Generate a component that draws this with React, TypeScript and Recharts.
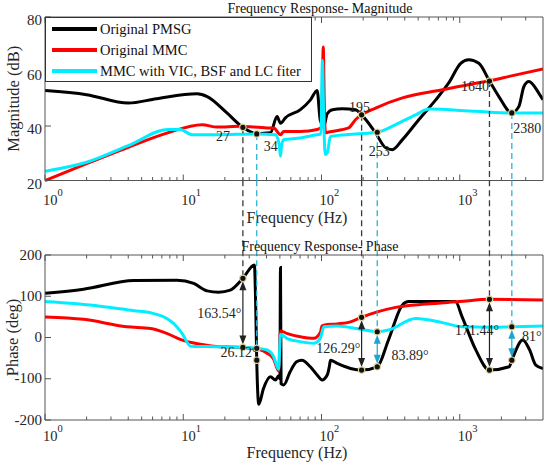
import React from 'react';
import { LineChart, Line, XAxis, YAxis, ReferenceLine, ReferenceDot, Legend } from 'recharts';

const FONT = '"Liberation Serif", "Times New Roman", serif';
const W = 550;
const H = 467;

const seriesNames = ['Original PMSG', 'Original MMC', 'MMC with VIC, BSF and LC fiter'];
const seriesColors = ['#000000', '#ff0000', '#00eeff'];

const decadeTicks = [1, 10, 100, 1000];
const minorTicks = [2, 3, 4, 5, 6, 7, 8, 9, 20, 30, 40, 50, 60, 70, 80, 90, 200, 300, 400, 500, 600, 700, 800, 900, 2000, 3000];
const freqTicks = [...decadeTicks, ...minorTicks].sort((a, b) => a - b);
const freqDomain = [1, 4000];
const magTicks = [20, 40, 60, 80];
const phaseTicks = [-200, -100, 0, 100, 200];

// magnitude (dB)
const pmsgMagFreq = [1, 2, 4, 6.4, 12.6, 14.9, 20.7, 27, 34, 42.7, 47.7, 50.5, 54.8, 70.4, 83.2, 93, 98, 104, 110, 120, 141, 176, 195, 246, 291, 325, 385, 505, 670, 832, 1016, 1161, 1374, 1640, 1918, 2380, 2678, 2911, 3162, 3736, 4000];
const pmsgMag = [53, 51.5, 48.4, 50, 51.8, 50.8, 44.8, 39.5, 37.2, 37.5, 43.5, 41, 43, 46, 49.6, 53, 42, 40, 44.5, 46, 46.3, 46, 44.1, 37.5, 32, 31.3, 35, 42.3, 49.6, 55.8, 63, 64.3, 63, 56.5, 50.8, 44.8, 47.2, 54.5, 56.3, 52, 49.6];

const mmcMagFreq = [1, 2, 4, 7.6, 13.7, 17.5, 25.9, 40.4, 45.1, 50.5, 53.3, 70.4, 93, 100, 103, 105, 107, 113, 157, 176, 195, 246, 385, 750, 1306, 1640, 2277, 4000];
const mmcMag = [20, 26.2, 32.2, 37.4, 40.5, 39.6, 39.9, 39.3, 39.3, 36.8, 38, 38, 38.7, 39.5, 69, 45, 37.5, 37.8, 39.3, 42.3, 44.1, 46.6, 50.3, 53.3, 55.7, 56.6, 58.2, 60.9];

const vicMagFreq = [1, 2, 4, 7.8, 9.5, 11.6, 17.5, 34, 46.4, 49.5, 50.5, 51.5, 53.3, 70.4, 93, 99, 101.5, 104, 106.5, 110, 116, 176, 253, 344, 480, 600, 1306, 2380, 4000];
const vicMag = [23.4, 26.7, 32.8, 38.7, 38.7, 36.8, 36.8, 37.1, 36.8, 33, 28.9, 33, 35, 35.6, 36.8, 37, 64, 40, 29.5, 30, 36.2, 37.1, 37.7, 40.5, 44.1, 46.2, 45.4, 44.8, 44.8];

// phase (deg)
const pmsgPhFreq = [1, 1.9, 4.4, 9, 11.9, 14.9, 18, 21.9, 27, 32.7, 33.5, 34, 35.2, 38, 42.7, 46.4, 49, 50, 50.5, 51, 53.3, 59.3, 66, 72, 83, 93, 101, 110, 114, 116, 130, 162, 195, 253, 305, 385, 427, 930, 1040, 1306, 1640, 2277, 2380, 2860, 3200, 3550, 4000];
const pmsgPh = [107, 117, 138, 139, 131, 113, 110, 115, 143.5, 176, 60, -55, -162, -124, -95, -103, -93, -100, 170, -112, -115, -83, -59, -55, -71, -91, -103, -91, -70, -55, -63, -75, -79, -71, -6, 79, 87, 87, 50, -30, -79, -71, -55, -6, -30, -67, -75];

const mmcPhFreq = [1, 1.9, 3.9, 5.8, 7.6, 9.5, 13.3, 17.5, 27, 36, 40.4, 45, 49, 50.5, 56, 70, 88, 98, 101, 104, 130, 162, 195, 253, 344, 570, 990, 1640, 4000];
const mmcPh = [50, 44, 26, 22, 10, -4.5, -16.5, -22, -24, -30, -38, -52, -81, 16, 10, 2, -2, 12, 28, 30, 33, 38, 49, 62, 73, 81, 87, 92.6, 91];

const vicPhFreq = [1, 2.5, 4.4, 5.8, 7.6, 8.5, 9.8, 11.3, 14.9, 27, 34, 40.4, 45, 49, 50.5, 56, 70, 88, 98, 104, 130, 192, 253, 305, 480, 750, 1040, 1640, 2380, 4000];
const vicPh = [87, 76, 65, 60, 46, 34, 10, -21, -22, -24, -26, -30, -46, -77, 8, -2, -10, -14, -2, 26, 28, 20, 14, 18, 46, 36, 26, 25, 26, 28];

// marked crossing points
const magMarkers = [
  { f: 27, v: 39.5, text: '27', kind: 'k' },
  { f: 34, v: 37.1, text: '34', kind: 'c' },
  { f: 195, v: 44.1, text: '195', kind: 'k' },
  { f: 253, v: 37.7, text: '253', kind: 'c' },
  { f: 1640, v: 56.5, text: '1640', kind: 'k' },
  { f: 2380, v: 44.8, text: '2380', kind: 'c' },
];
const phaseMarkers = [
  { f: 27, hi: 143.5, lo: -24, text: '163.54°', kind: 'k' },
  { f: 34, hi: -26, lo: -55, text: '26.12°', kind: 'c' },
  { f: 195, hi: 49, lo: -79, text: '126.29°', kind: 'k' },
  { f: 253, hi: 14, lo: -71, text: '83.89°', kind: 'c' },
  { f: 1640, hi: 92.6, lo: -79, text: '171.44°', kind: 'k' },
  { f: 2380, hi: 26, lo: -55, text: '81°', kind: 'c' },
];

// label placement (px from the dot)
const magLabelOffset: Record<string, number[]> = {
  '27': [-20, 13.5], '34': [14, 17.5], '195': [-2, -3], '253': [2, 24], '1640': [-14.5, 9.5], '2380': [15.5, 19.7],
};
const phaseLabelOffset: Record<string, number[]> = {
  '163.54°': [-23.7, -29.4], '26.12°': [-17.7, -3.2], '126.29°': [-23.3, -17], '83.89°': [32.7, -6.8], '171.44°': [-12.3, -35], '81°': [20, -19],
};
const dashColor: Record<string, string> = { k: '#3a3a3a', c: '#27b3da' };
const arrowColor: Record<string, string> = { k: '#222', c: '#1ca6cf' };

// connector reaches from the phase panel up to the bottom of the magnitude panel
const PHASE_EXT = 381;

const zip = (f: number[], v: number[]) => f.map((x, i) => ({ f: x, v: v[i] }));
const magSeries = [zip(pmsgMagFreq, pmsgMag), zip(mmcMagFreq, mmcMag), zip(vicMagFreq, vicMag)];
const phaseSeries = [zip(pmsgPhFreq, pmsgPh), zip(mmcPhFreq, mmcPh), zip(vicPhFreq, vicPh)];

const AXIS = '#555';
const TXT = '#262626';

const XTick = (props: any) => {
  const { x, y, payload, side, labelGap } = props;
  const v = payload.value;
  const major = decadeTicks.includes(v);
  const len = major ? 6 : 3.5;
  const dir = side === 'top' ? 1 : -1;
  return (
    <g>
      <line x1={x} x2={x} y1={y} y2={y + dir * len} stroke={AXIS} strokeWidth={1} />
      {major && side === 'bottom' && (
        <text x={x - 2} y={y + labelGap} fontFamily={FONT} fontSize={14.5} fill={TXT}>
          10
          <tspan dy={-9} fontSize={10.5}>{Math.round(Math.log10(v))}</tspan>
        </text>
      )}
    </g>
  );
};

const YTick = (props: any) => {
  const { x, y, payload, side, shift } = props;
  const dir = side === 'left' ? 1 : -1;
  return (
    <g>
      <line x1={x} x2={x + dir * 6} y1={y} y2={y} stroke={AXIS} strokeWidth={1} />
      {side === 'left' && (
        <text x={x - 3} y={y + shift} textAnchor="end" fontFamily={FONT} fontSize={15} fill={TXT}>
          {payload.value}
        </text>
      )}
    </g>
  );
};

const DoubleArrow = (p: any) => {
  const x = p.x1;
  const t = Math.min(p.y1, p.y2) + 3;
  const b = Math.max(p.y1, p.y2) - 3;
  const c = p.stroke;
  return (
    <g>
      <line x1={x} x2={x} y1={t + 5} y2={b - 5} stroke={c} strokeWidth={1.2} />
      <polygon points={`${x},${t} ${x - 3.5},${t + 9} ${x + 3.5},${t + 9}`} fill={c} />
      <polygon points={`${x},${b} ${x - 3.5},${b - 9} ${x + 3.5},${b - 9}`} fill={c} />
    </g>
  );
};

const dotLabel = (text: string, off: number[]) => (lp: any) => {
  const vb = lp.viewBox;
  const cx = vb.x + vb.width / 2;
  const cy = vb.y + vb.height / 2;
  return (
    <text x={cx + off[0]} y={cy + off[1]} textAnchor="middle" fontFamily={FONT} fontSize={14} fill={TXT}>
      {text}
    </text>
  );
};

const titleLabel = (text: string) => (lp: any) => {
  const vb = lp.viewBox;
  return (
    <text x={vb.x + vb.width / 2 + 26} y={vb.y + vb.height - 4.5} textAnchor="middle" fontFamily={FONT} fontSize={14} fill="#111">
      {text}
    </text>
  );
};

const xLabel = (gap: number) => (lp: any) => {
  const vb = lp.viewBox;
  return (
    <text x={vb.x + vb.width / 2 + 3} y={vb.y + gap} textAnchor="middle" fontFamily={FONT} fontSize={16} fill={TXT}>
      Frequency (Hz)
    </text>
  );
};

const yLabel = (text: string, bx: number) => (lp: any) => {
  const vb = lp.viewBox;
  const cy = vb.y + vb.height / 2;
  return (
    <text x={bx} y={cy} transform={`rotate(-90 ${bx} ${cy})`} textAnchor="middle" fontFamily={FONT} fontSize={16.5} fill={TXT}>
      {text}
    </text>
  );
};

const renderLegend = (props: any) => {
  const entries = [...(props.payload || [])].sort(
    (a: any, b: any) => seriesNames.indexOf(a.value) - seriesNames.indexOf(b.value)
  );
  return (
    <div
      style={{
        position: 'relative',
        width: 267,
        height: 65,
        boxSizing: 'border-box',
        border: '1px solid #333',
        background: '#fff',
        fontFamily: FONT,
        fontSize: 14.5,
        color: '#111',
      }}
    >
      {entries.map((e: any, i: number) => (
        <div key={i} style={{ position: 'absolute', left: 6, top: 2 + i * 21, height: 18, display: 'flex', alignItems: 'center', whiteSpace: 'nowrap' }}>
          <span style={{ display: 'inline-block', width: 45, height: 3.5, background: e.color, marginRight: 3 }} />
          <span>{e.value}</span>
        </div>
      ))}
    </div>
  );
};

const axesFor = (domain: number[], labelGap: number, title: string, xGap: number) => [
  <XAxis
    key="xb"
    dataKey="f"
    type="number"
    scale="log"
    domain={domain}
    allowDataOverflow
    ticks={freqTicks}
    interval={0}
    height={1}
    tickSize={0}
    tickMargin={0}
    tickLine={false}
    axisLine={{ stroke: AXIS }}
    tick={(p: any) => <XTick {...p} side="bottom" labelGap={labelGap} />}
    label={{ content: xLabel(xGap) }}
  />,
  <XAxis
    key="xt"
    xAxisId="top"
    orientation="top"
    dataKey="f"
    type="number"
    scale="log"
    domain={domain}
    allowDataOverflow
    ticks={freqTicks}
    interval={0}
    height={1}
    tickSize={0}
    tickMargin={0}
    tickLine={false}
    axisLine={{ stroke: AXIS }}
    tick={(p: any) => <XTick {...p} side="top" />}
    label={{ content: titleLabel(title) }}
  />,
];

function App() {
  const magDomain = [20, 80];
  const phaseDomain = [-200, 200];
  return (
    <div style={{ position: 'absolute', left: 0, top: 0, width: W, height: H, background: '#fff' }}>
      <div style={{ position: 'absolute', left: 0, top: 0 }}>
        <LineChart width={W} height={H} margin={{ top: 16, right: 6, bottom: H - 180.5 - 1, left: 44 }}>
          {axesFor(freqDomain, 24, 'Frequency Response- Magnitude', 42)}
          <YAxis
            type="number"
            domain={magDomain}
            ticks={magTicks}
            interval={0}
            width={1}
            tickSize={0}
            tickMargin={0}
            tickLine={false}
            axisLine={{ stroke: AXIS }}
            tick={(p: any) => <YTick {...p} side="left" shift={8} />}
            label={{ content: yLabel('Magnitude (dB)', 19) }}
          />
          <YAxis
            yAxisId="r"
            orientation="right"
            type="number"
            domain={magDomain}
            ticks={magTicks}
            interval={0}
            width={1}
            tickSize={0}
            tickMargin={0}
            tickLine={false}
            axisLine={{ stroke: AXIS }}
            tick={(p: any) => <YTick {...p} side="right" />}
          />
          <Legend
            layout="vertical"
            align="center"
            verticalAlign="middle"
            content={renderLegend}
            wrapperStyle={{ left: 45, top: 17, width: 267, height: 65 }}
          />
          {magSeries.map((d, i) => (
            <Line
              key={seriesNames[i]}
              name={seriesNames[i]}
              data={d}
              dataKey="v"
              type="monotone"
              stroke={seriesColors[i]}
              strokeWidth={3}
              dot={false}
              activeDot={false}
              isAnimationActive={false}
            />
          ))}
          {magMarkers.map((m) => (
            <ReferenceLine
              key={'c' + m.text}
              segment={[{ x: m.f, y: m.v }, { x: m.f, y: magDomain[0] }]}
              stroke={dashColor[m.kind]}
              strokeWidth={1.3}
              strokeDasharray="6 4"
              ifOverflow="visible"
            />
          ))}
          {magMarkers.map((m) => (
            <ReferenceDot
              key={'d' + m.text}
              x={m.f}
              y={m.v}
              r={3.2}
              fill="#111"
              stroke="#ddd29a"
              strokeWidth={1.2}
              ifOverflow="visible"
              label={dotLabel(m.text, magLabelOffset[m.text])}
            />
          ))}
        </LineChart>
      </div>
      <div style={{ position: 'absolute', left: 0, top: 0 }}>
        <LineChart width={W} height={H} margin={{ top: 254, right: 6, bottom: H - 420 - 1, left: 44 }}>
          {axesFor(freqDomain, 21, 'Frequency Response- Phase', 38)}
          <YAxis
            type="number"
            domain={phaseDomain}
            ticks={phaseTicks}
            interval={0}
            width={1}
            tickSize={0}
            tickMargin={0}
            tickLine={false}
            axisLine={{ stroke: AXIS }}
            tick={(p: any) => <YTick {...p} side="left" shift={4.5} />}
            label={{ content: yLabel('Phase (deg)', 18) }}
          />
          <YAxis
            yAxisId="r"
            orientation="right"
            type="number"
            domain={phaseDomain}
            ticks={phaseTicks}
            interval={0}
            width={1}
            tickSize={0}
            tickMargin={0}
            tickLine={false}
            axisLine={{ stroke: AXIS }}
            tick={(p: any) => <YTick {...p} side="right" />}
          />
          {phaseSeries.map((d, i) => (
            <Line
              key={seriesNames[i]}
              name={seriesNames[i]}
              data={d}
              dataKey="v"
              type="monotone"
              stroke={seriesColors[i]}
              strokeWidth={3}
              dot={false}
              activeDot={false}
              isAnimationActive={false}
            />
          ))}
          {phaseMarkers.map((m) => (
            <ReferenceLine
              key={'c' + m.text}
              segment={[{ x: m.f, y: PHASE_EXT }, { x: m.f, y: m.hi }]}
              stroke={dashColor[m.kind]}
              strokeWidth={1.3}
              strokeDasharray="6 4"
              ifOverflow="visible"
            />
          ))}
          {phaseMarkers
            .filter((m) => m.hi - m.lo > 40)
            .map((m) => (
              <ReferenceLine
                key={'a' + m.text}
                segment={[{ x: m.f, y: m.hi }, { x: m.f, y: m.lo }]}
                stroke={arrowColor[m.kind]}
                ifOverflow="visible"
                shape={(p: any) => <DoubleArrow {...p} />}
              />
            ))}
          {phaseMarkers.map((m) => (
            <ReferenceDot
              key={'h' + m.text}
              x={m.f}
              y={m.hi}
              r={3.2}
              fill="#111"
              stroke="#ddd29a"
              strokeWidth={1.2}
              ifOverflow="visible"
            />
          ))}
          {phaseMarkers.map((m) => (
            <ReferenceDot
              key={'l' + m.text}
              x={m.f}
              y={m.lo}
              r={3.2}
              fill="#111"
              stroke="#ddd29a"
              strokeWidth={1.2}
              ifOverflow="visible"
              label={dotLabel(m.text, phaseLabelOffset[m.text])}
            />
          ))}
        </LineChart>
      </div>
    </div>
  );
}

export default App;
